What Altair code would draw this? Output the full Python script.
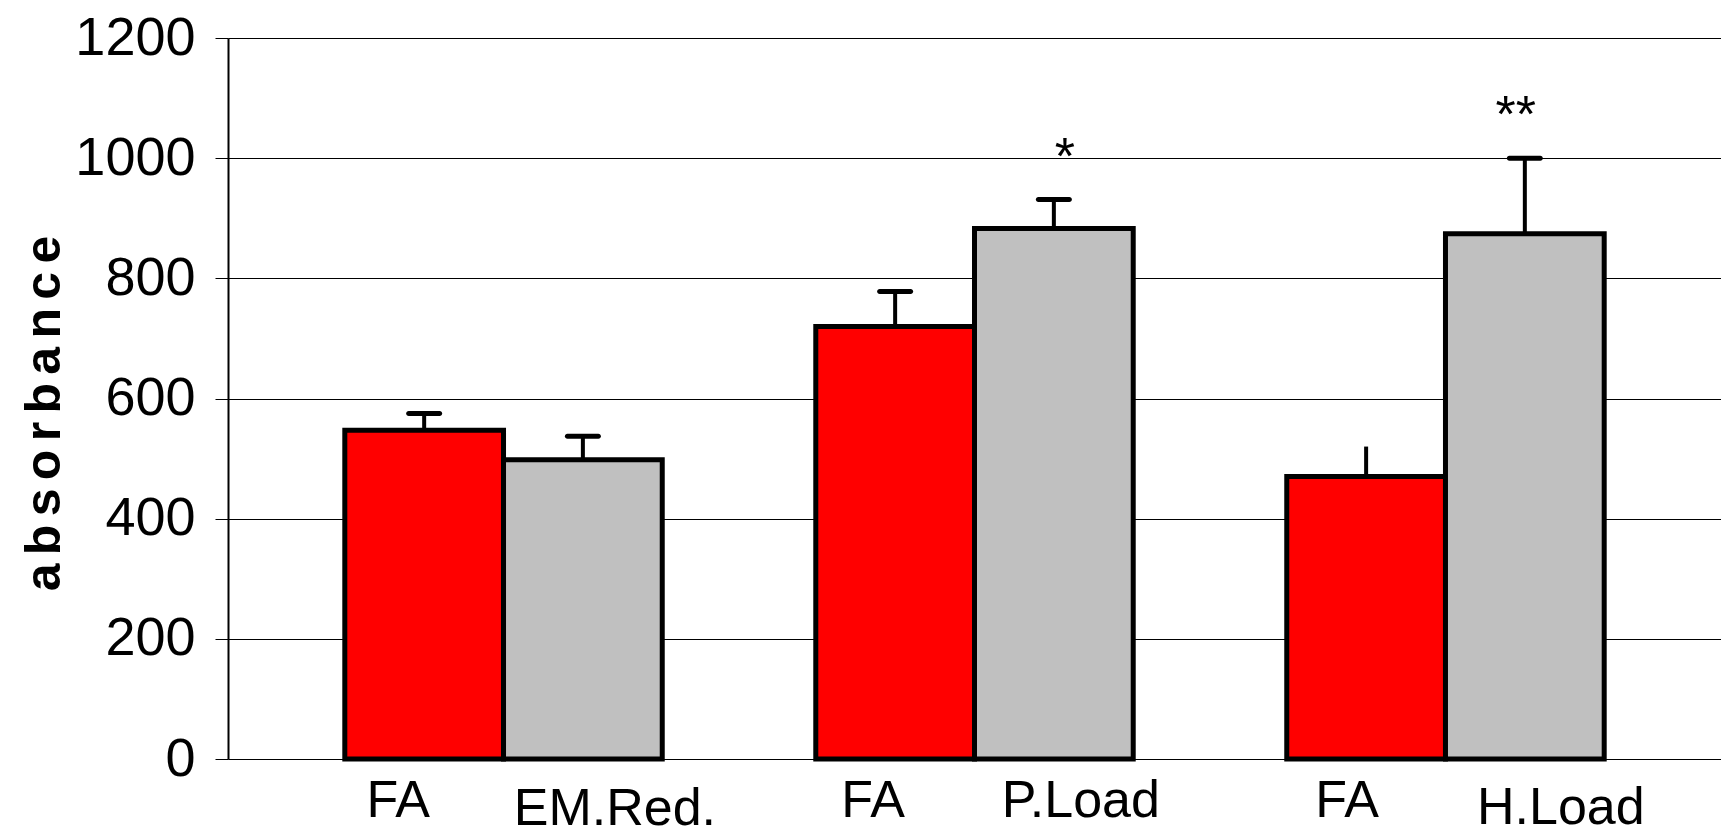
import altair as alt
import pandas as pd

# ---- data ----
GROUPS = ["EM", "P", "H"]
SERIES = ["FA", "treated"]
BAR_LABELS = ["FA", "EM.Red.", "FA", "P.Load", "FA", "H.Load"]
MEANS = [547, 498, 720, 883, 470, 874]
ERR_UP = [28, 39, 58, 48, 50, 126]
HAS_CAP = [True, True, True, True, False, True]
STARS = ["", "", "", "*", "", "**"]
Y_TICKS = [0, 200, 400, 600, 800, 1000, 1200]
Y_TITLE = "\u2006".join("absorbance")
COLORS = ["#FF0000", "#C0C0C0"]

rows = []
for i, lab in enumerate(BAR_LABELS):
    rows.append(dict(
        group=GROUPS[i // 2],
        series=SERIES[i % 2],
        label=lab,
        mean=MEANS[i],
        top=MEANS[i] + ERR_UP[i],
        cap=HAS_CAP[i],
        star=STARS[i],
    ))
df = pd.DataFrame(rows)

# ---- layout ----
W, H = 1493, 721
PAD_LEFT, PAD_TOP, PAD_BOTTOM = 228, 38, 73
LABEL_DX = [-26, 32, -22, 27, -19, 36]
LABEL_BASELINE = [817, 825, 817, 817, 817, 824]
STAR_DX = [0, 0, 0, 11, 0, -9]
FONT = "Liberation Sans, Arial, sans-serif"

x_enc = alt.X("group:N", sort=GROUPS, axis=None,
              scale=alt.Scale(paddingInner=0.326, paddingOuter=0.248))
xo_enc = alt.XOffset("series:N", sort=SERIES,
                     scale=alt.Scale(paddingInner=0, paddingOuter=0))
y_scale = alt.Scale(domain=[0, 1200], nice=False)
y_axis = alt.Axis(
    values=Y_TICKS, title=Y_TITLE, format="d",
    labelFont=FONT, labelFontSize=54, labelColor="black", labelPadding=20,
    tickSize=13, tickColor="black", tickWidth=1,
    domainColor="black", domainWidth=2,
    gridColor="black", gridWidth=1, gridOpacity=1,
    titleFont=FONT, titleFontWeight="bold", titleFontSize=50, titleColor="black",
    titleAngle=270, titleX=-184, titleY=375, titleAlign="center", titleBaseline="middle",
)

base = alt.Chart(df)

bars = base.mark_bar(stroke="black", strokeWidth=5, opacity=1).encode(
    x=x_enc,
    xOffset=xo_enc,
    y=alt.Y("mean:Q", scale=y_scale, axis=y_axis),
    color=alt.Color("series:N", sort=SERIES,
                    scale=alt.Scale(domain=SERIES, range=COLORS), legend=None),
)

err = base.mark_rule(color="black", strokeWidth=4, opacity=1).encode(
    x=x_enc, xOffset=xo_enc,
    y=alt.Y("mean:Q", scale=y_scale, axis=y_axis),
    y2="top:Q",
)

caps = base.transform_filter("datum.cap").mark_tick(
    orient="horizontal", size=36, thickness=5, cornerRadius=2.5,
    color="black", opacity=1,
).encode(
    x=x_enc, xOffset=xo_enc,
    y=alt.Y("top:Q", scale=y_scale, axis=y_axis),
)

stars = []
for i in range(len(BAR_LABELS)):
    if not STARS[i]:
        continue
    stars.append(
        alt.Chart(df.iloc[[i]]).mark_text(
            font=FONT, fontSize=52, dy=-26, dx=STAR_DX[i],
            baseline="alphabetic", align="center", color="black",
        ).encode(
            x=x_enc, xOffset=xo_enc,
            y=alt.Y("top:Q", scale=y_scale, axis=y_axis),
            text="star:N",
        )
    )

labels = []
for i in range(len(BAR_LABELS)):
    labels.append(
        alt.Chart(df.iloc[[i]]).mark_text(
            font=FONT, fontSize=52, baseline="alphabetic", align="center",
            color="black", dx=LABEL_DX[i],
        ).encode(
            x=x_enc, xOffset=xo_enc,
            y=alt.value(LABEL_BASELINE[i] - PAD_TOP),
            text="label:N",
        )
    )

chart = alt.layer(bars, err, caps, *stars, *labels).properties(
    width=W, height=H,
    autosize="none",
    background="white",
    padding={"left": PAD_LEFT, "top": PAD_TOP, "right": 0, "bottom": PAD_BOTTOM},
).configure_view(strokeWidth=0)

chart.save("out.html", embed_options={"renderer": "svg", "actions": False})
